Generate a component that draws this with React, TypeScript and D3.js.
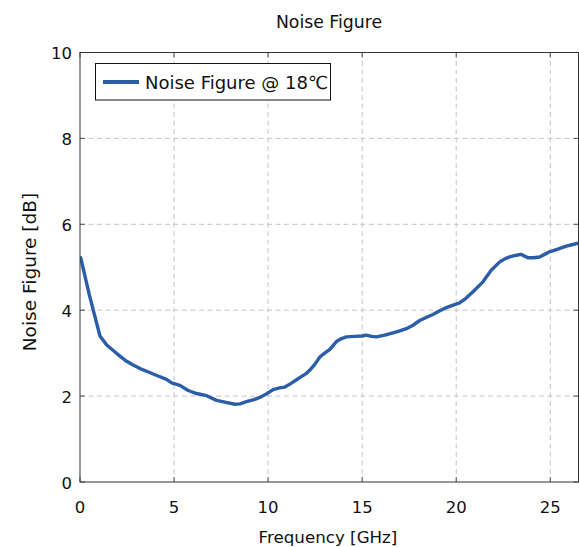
import React from "react";
import * as d3 from "d3";

const freqGHz = [0, 0.05, 0.5, 1.06, 1.42, 1.8, 2.12, 2.48, 2.8, 3.19, 3.7, 4.25, 4.6, 4.87, 5.31, 5.75, 6.2, 6.73, 7.26, 7.7, 8.23, 8.5, 8.85, 9.2, 9.56, 9.9, 10.27, 10.6, 10.89, 11.2, 11.51, 11.68, 12.04, 12.21, 12.5, 12.75, 12.92, 13.28, 13.63, 13.9, 14.16, 14.6, 15.0, 15.22, 15.5, 15.76, 16.2, 16.64, 17.0, 17.35, 17.7, 18.06, 18.4, 18.76, 19.1, 19.47, 19.8, 20.18, 20.5, 20.89, 21.42, 21.86, 22.3, 22.6, 22.84, 23.2, 23.45, 23.81, 24.1, 24.43, 24.7, 24.96, 25.4, 25.85, 26.2, 26.5];
const noiseFigure = [5.25, 5.2, 4.35, 3.4, 3.19, 3.05, 2.93, 2.81, 2.73, 2.64, 2.55, 2.45, 2.39, 2.31, 2.25, 2.13, 2.06, 2.01, 1.9, 1.86, 1.81, 1.82, 1.87, 1.91, 1.97, 2.05, 2.15, 2.19, 2.21, 2.29, 2.38, 2.43, 2.53, 2.6, 2.75, 2.91, 2.97, 3.09, 3.27, 3.34, 3.38, 3.39, 3.4, 3.42, 3.39, 3.38, 3.42, 3.47, 3.52, 3.57, 3.65, 3.76, 3.83, 3.9, 3.98, 4.06, 4.11, 4.17, 4.27, 4.43, 4.66, 4.93, 5.12, 5.2, 5.24, 5.28, 5.3, 5.22, 5.22, 5.24, 5.3, 5.36, 5.42, 5.49, 5.53, 5.56];

const xTicks = [0, 5, 10, 15, 20, 25];
const yTicks = [0, 2, 4, 6, 8, 10];
const xDomain = [0, 26.5];
const yDomain = [0, 10];
const titleText = "Noise Figure";
const xLabel = "Frequency [GHz]";
const yLabel = "Noise Figure [dB]";
const legendLabel = "Noise Figure @ 18\u2103";

const W = 579;
const H = 547;
const left = 80;
const right = 578.5;
const top = 52.5;
const bottom = 482;
const lineColor = "#2b5ea8";
const font = "'DejaVu Sans', sans-serif";

export default function App() {
  const x = d3.scaleLinear().domain(xDomain).range([left, right]);
  const y = d3.scaleLinear().domain(yDomain).range([bottom, top]);
  const pts = freqGHz.map((f, i) => [f, noiseFigure[i]] as [number, number]);
  const line = d3
    .line<[number, number]>()
    .x((d) => x(d[0]))
    .y((d) => y(d[1]))
    .curve(d3.curveLinear);
  const tickLen = 5;
  return (
    <svg
      width={W}
      height={H}
      style={{ position: "absolute", left: 0, top: 0, background: "#fff" }}
      fontFamily={font}
    >
      <rect x={0} y={0} width={W} height={H} fill="#fff" />
      <defs>
        <clipPath id="plotclip">
          <rect x={left} y={top} width={right - left} height={bottom - top} />
        </clipPath>
      </defs>
      {xTicks
        .filter((t) => t > xDomain[0])
        .map((t) => (
          <line
            key={"gx" + t}
            x1={x(t)}
            x2={x(t)}
            y1={top}
            y2={bottom}
            stroke="#c4c4c4"
            strokeWidth={1}
            strokeDasharray="5,3.5"
          />
        ))}
      {yTicks
        .filter((t) => t > yDomain[0] && t < yDomain[1])
        .map((t) => (
          <line
            key={"gy" + t}
            x1={left}
            x2={right}
            y1={y(t)}
            y2={y(t)}
            stroke="#c4c4c4"
            strokeWidth={1}
            strokeDasharray="5,3.5"
          />
        ))}
      {xTicks.map((t) => (
        <g key={"tx" + t}>
          <line x1={x(t)} x2={x(t)} y1={bottom} y2={bottom - tickLen} stroke="#555" strokeWidth={1} />
          <line x1={x(t)} x2={x(t)} y1={top} y2={top + tickLen} stroke="#555" strokeWidth={1} />
          <text x={x(t)} y={bottom + 31} textAnchor="middle" fontSize={16.5} fill="#111">
            {t}
          </text>
        </g>
      ))}
      {yTicks.map((t) => (
        <g key={"ty" + t}>
          <line x1={left} x2={left + tickLen} y1={y(t)} y2={y(t)} stroke="#555" strokeWidth={1} />
          <line x1={right} x2={right - tickLen} y1={y(t)} y2={y(t)} stroke="#555" strokeWidth={1} />
          <text x={left - 8} y={y(t) + 6.5} textAnchor="end" fontSize={16.5} fill="#111">
            {t}
          </text>
        </g>
      ))}
      <path
        d={line(pts) || ""}
        fill="none"
        stroke={lineColor}
        strokeWidth={3.4}
        strokeLinejoin="round"
        clipPath="url(#plotclip)"
      />
      <rect x={left} y={top} width={right - left} height={bottom - top} fill="none" stroke="#333" strokeWidth={1} />
      <rect x={95.5} y={63.5} width={235} height={36.5} fill="#fff" stroke="#111" strokeWidth={1} />
      <line x1={103} x2={139} y1={82} y2={82} stroke={lineColor} strokeWidth={4} />
      <text x={145} y={88.5} fontSize={18} fill="#111">
        {legendLabel}
      </text>
      <text x={329} y={27.5} textAnchor="middle" fontSize={17.3} fill="#111">
        {titleText}
      </text>
      <text x={328} y={542.5} textAnchor="middle" fontSize={16.7} fill="#111">
        {xLabel}
      </text>
      <text
        transform={`translate(35.5, 272) rotate(-90)`}
        textAnchor="middle"
        fontSize={18.5}
        fill="#111"
      >
        {yLabel}
      </text>
    </svg>
  );
}
